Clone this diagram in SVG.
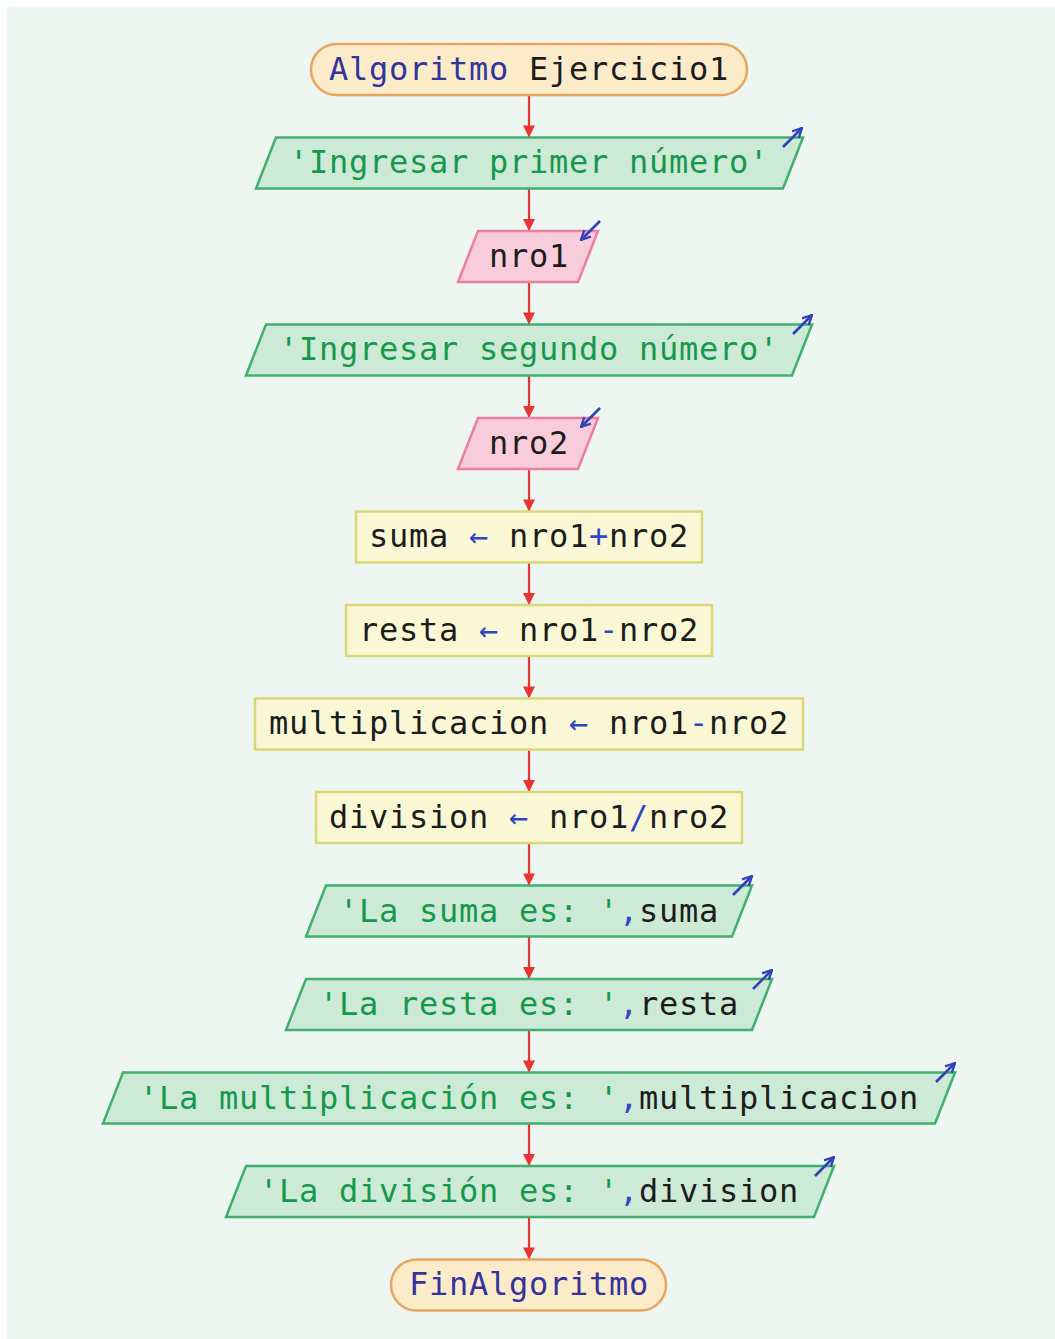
<svg xmlns="http://www.w3.org/2000/svg" width="1055" height="1339" viewBox="0 0 1055 1339">
  <style>
    text { font-family: "DejaVu Sans Mono", "Liberation Mono", monospace; font-size: 32px; letter-spacing: 0.74px; text-anchor: middle; fill: #1c1c1c; }
    .kw { fill: #34349c; }
    .op { fill: #3244c4; }
    .str { fill: #16984c; }
    .term { fill: #fcebc9; stroke: #e6a660; stroke-width: 2.5; }
    .out { fill: #cdead6; stroke: #40b06c; stroke-width: 2.5; }
    .in { fill: #f9ccdc; stroke: #ec7ea0; stroke-width: 2.5; }
    .proc { fill: #faf7d4; stroke: #d8d878; stroke-width: 2.5; }
    .flow { stroke: #e83434; stroke-width: 2.2; fill: none; marker-end: url(#head); }
    .io { stroke: #3442b8; stroke-width: 2.6; fill: none; marker-end: url(#vee); }
  </style>
  <defs>
    <marker id="head" viewBox="0 0 10 10" refX="10" refY="5" markerWidth="5.5" markerHeight="5.5" orient="auto" markerUnits="strokeWidth">
      <path d="M0,0 L10,5 L0,10 Z" fill="#e83434"/>
    </marker>
    <marker id="vee" viewBox="0 0 10 10" refX="9" refY="5" markerWidth="4.5" markerHeight="4.5" orient="auto" markerUnits="strokeWidth">
      <path d="M1,1 L9,5 L1,9" fill="none" stroke="#3442b8" stroke-width="2"/>
    </marker>
  </defs>

  <rect x="0" y="0" width="1055" height="1339" fill="#ffffff"/>
  <rect x="7" y="7" width="1048" height="1332" fill="#eef6f1"/>

  <!-- flow connectors -->
  <g id="connectors">
    <line class="flow" x1="529" y1="95" x2="529" y2="137.5"/>
    <line class="flow" x1="529" y1="188.5" x2="529" y2="231"/>
    <line class="flow" x1="529" y1="282" x2="529" y2="324.5"/>
    <line class="flow" x1="529" y1="375.5" x2="529" y2="418"/>
    <line class="flow" x1="529" y1="469" x2="529" y2="511.5"/>
    <line class="flow" x1="529" y1="562.5" x2="529" y2="605"/>
    <line class="flow" x1="529" y1="656" x2="529" y2="698.5"/>
    <line class="flow" x1="529" y1="749.5" x2="529" y2="792"/>
    <line class="flow" x1="529" y1="843" x2="529" y2="885.5"/>
    <line class="flow" x1="529" y1="936.5" x2="529" y2="979"/>
    <line class="flow" x1="529" y1="1030" x2="529" y2="1072.5"/>
    <line class="flow" x1="529" y1="1123.5" x2="529" y2="1166"/>
    <line class="flow" x1="529" y1="1217" x2="529" y2="1259.5"/>
  </g>

  <g id="start">
    <rect class="term" x="311" y="44" width="436" height="51" rx="25.5"/>
    <text x="529" y="80"><tspan class="kw">Algoritmo</tspan> Ejercicio1</text>
  </g>

  <g id="out-primer">
    <polygon class="out" points="276,137.5 803,137.5 783,188.5 256,188.5"/>
    <line class="io" x1="783" y1="147" x2="802" y2="128"/>
    <text x="529" y="173" class="str">'Ingresar primer número'</text>
  </g>

  <g id="in-nro1">
    <polygon class="in" points="478,231 598,231 578,282 458,282"/>
    <line class="io" x1="600" y1="221" x2="581" y2="240"/>
    <text x="529" y="267">nro1</text>
  </g>

  <g id="out-segundo">
    <polygon class="out" points="266,324.5 812,324.5 792,375.5 246,375.5"/>
    <line class="io" x1="793" y1="334" x2="812" y2="315"/>
    <text x="529" y="360" class="str">'Ingresar segundo número'</text>
  </g>

  <g id="in-nro2">
    <polygon class="in" points="478,418 598,418 578,469 458,469"/>
    <line class="io" x1="600" y1="408" x2="581" y2="427"/>
    <text x="529" y="454">nro2</text>
  </g>

  <g id="proc-suma">
    <rect class="proc" x="356" y="511.5" width="346" height="51"/>
    <text x="529" y="547">suma <tspan class="op">←</tspan> nro1<tspan class="op">+</tspan>nro2</text>
  </g>

  <g id="proc-resta">
    <rect class="proc" x="346" y="605" width="366" height="51"/>
    <text x="529" y="641">resta <tspan class="op">←</tspan> nro1<tspan class="op">-</tspan>nro2</text>
  </g>

  <g id="proc-multiplicacion">
    <rect class="proc" x="255" y="698.5" width="548" height="51"/>
    <text x="529" y="734">multiplicacion <tspan class="op">←</tspan> nro1<tspan class="op">-</tspan>nro2</text>
  </g>

  <g id="proc-division">
    <rect class="proc" x="316" y="792" width="426" height="51"/>
    <text x="529" y="828">division <tspan class="op">←</tspan> nro1<tspan class="op">/</tspan>nro2</text>
  </g>

  <g id="out-suma">
    <polygon class="out" points="326,885.5 752,885.5 732,936.5 306,936.5"/>
    <line class="io" x1="733" y1="895" x2="752" y2="876"/>
    <text x="529" y="922"><tspan class="str">'La suma es: '</tspan><tspan class="op">,</tspan>suma</text>
  </g>

  <g id="out-resta">
    <polygon class="out" points="306,979 772,979 752,1030 286,1030"/>
    <line class="io" x1="753" y1="989" x2="772" y2="970"/>
    <text x="529" y="1015"><tspan class="str">'La resta es: '</tspan><tspan class="op">,</tspan>resta</text>
  </g>

  <g id="out-multiplicacion">
    <polygon class="out" points="123,1072.5 955,1072.5 935,1123.5 103,1123.5"/>
    <line class="io" x1="936" y1="1082" x2="955" y2="1063"/>
    <text x="529" y="1109"><tspan class="str">'La multiplicación es: '</tspan><tspan class="op">,</tspan>multiplicacion</text>
  </g>

  <g id="out-division">
    <polygon class="out" points="246,1166 834,1166 814,1217 226,1217"/>
    <line class="io" x1="815" y1="1176" x2="834" y2="1157"/>
    <text x="529" y="1202"><tspan class="str">'La división es: '</tspan><tspan class="op">,</tspan>division</text>
  </g>

  <g id="end">
    <rect class="term" x="391" y="1259.5" width="275" height="51" rx="25.5"/>
    <text x="529" y="1295" class="kw">FinAlgoritmo</text>
  </g>
</svg>
